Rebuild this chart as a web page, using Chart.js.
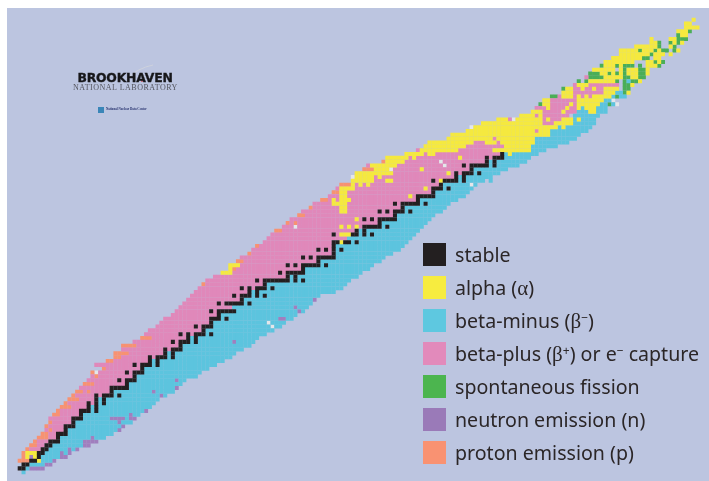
<!DOCTYPE html>
<html><head><meta charset="utf-8">
<script src="https://cdn.jsdelivr.net/npm/chart.js@4"></script>
<style>
html,body{margin:0;padding:0;background:#fff;width:709px;height:481px;overflow:hidden}
#bg{position:absolute;left:7px;top:8px;width:702px;height:473px;background:#bcc5e0}
canvas{position:absolute;left:0;top:0}
.sw{position:absolute;left:423px;width:23px;height:23px}
.lb{position:absolute;left:455px;height:23px;font:19.6px/24px "Noto Sans",sans-serif;color:#2b2627;white-space:nowrap}
.lb i{font:normal 21px "Liberation Serif",serif}
.lb sup{font-size:12px;line-height:0;vertical-align:6px}
#bnl{position:absolute;left:77px;top:71px;width:96px;text-align:center;font:bold 12.4px/14px "DejaVu Sans",sans-serif;color:#17171a;white-space:nowrap;letter-spacing:-.2px;-webkit-text-stroke:.35px #17171a}
#nat{position:absolute;left:73px;top:83px;font:8px/10px "Liberation Serif",serif;color:#55565f;letter-spacing:.5px;white-space:nowrap}
#icon{position:absolute;left:98px;top:107px;width:6px;height:6px;background:#3a86b8}
#nndc{position:absolute;left:106px;top:106px;font:bold 3.2px/6px "Liberation Serif",serif;color:#28336f;white-space:nowrap}
#arc{position:absolute;left:0;top:0}
</style></head><body>
<div id="bg"></div>
<canvas id="c" width="709" height="481"></canvas>
<svg id="arc" width="709" height="481"><path d="M126 79 Q138 68 153 65" fill="none" stroke="#cdd1dc" stroke-width="1"/><circle cx="142" cy="81" r="0.9" fill="#c8434f"/></svg>
<div id="bnl">BROOKHAVEN</div><div id="nat">NATIONAL LABORATORY</div><div id="icon"></div><div id="nndc">National Nuclear Data Center</div>
<div class="sw" style="top:243px;background:#231f20"></div><div class="lb" style="top:243px">stable</div>
<div class="sw" style="top:276px;background:#f7ec3f"></div><div class="lb" style="top:276px">alpha (<i>α</i>)</div>
<div class="sw" style="top:309px;background:#5ec8e0"></div><div class="lb" style="top:309px">beta-minus (<i>β</i><sup>−</sup>)</div>
<div class="sw" style="top:342px;background:#e28abb"></div><div class="lb" style="top:342px">beta-plus (<i>β</i><sup>+</sup>) or e<sup>−</sup> capture</div>
<div class="sw" style="top:375px;background:#4cb54f"></div><div class="lb" style="top:375px">spontaneous fission</div>
<div class="sw" style="top:408px;background:#9a7ab8"></div><div class="lb" style="top:408px">neutron emission (n)</div>
<div class="sw" style="top:441px;background:#f99272"></div><div class="lb" style="top:441px">proton emission (p)</div>
<script>
// Index = proton number Z (0..92)
const nLow=[1,0,1,0,1,1,2,3,4,5,6,7,7,8,8,9,10,11,12,13,14,15,16,17,18,19,19,22,20,23,25,25,27,27,30,32,33,34,36,37,38,40,41,42,43,44,45,46,47,48,49,51,53,55,55,57,58,60,61,62,64,65,66,67,69,70,71,73,74,76,77,79,81,82,83,84,87,87,88,90,91,95,96,101,104,106,107,112,113,117,119,121,125];
const nHigh=[1,6,8,9,12,13,15,18,20,22,24,26,27,29,30,31,33,34,35,36,38,40,41,42,43,46,47,49,51,53,55,56,58,60,61,62,64,66,68,69,71,72,74,75,76,77,78,82,84,85,86,88,89,91,92,94,95,97,99,100,101,102,103,104,105,106,107,108,110,111,112,114,116,117,118,119,121,123,125,127,130,132,133,135,137,140,143,145,146,148,149,150,150];
const firstBlue=[0,2,3,5,6,7,8,9,11,11,13,13,15,15,17,17,19,19,21,21,25,25,29,29,31,31,33,33,35,35,39,39,43,43,45,45,49,49,51,51,53,53,57,56,59,59,61,61,65,65,71,71,75,75,79,79,83,83,83,83,87,86,89,89,95,95,99,99,101,101,105,105,109,109,111,111,115,115,119,119,123,123,127,127,134,134,135,135,139,139,141,145,145];
// [Z, neutron numbers...]
const stableNuclides=[[1,0,1],[2,1,2],[3,3,4],[4,5],[5,5,6],[6,6,7],[7,7,8],[8,8,9,10],[9,10],[10,10,11,12],[11,12],[12,12,13,14],[13,14],[14,14,15,16],[15,16],[16,16,17,18,20],[17,18,20],[18,18,20,22],[19,20,22],[20,20,22,23,24,26],[21,24],[22,24,25,26,27,28],[23,28],[24,26,28,29,30],[25,30],[26,28,30,31,32],[27,32],[28,30,32,33,34,36],[29,34,36],[30,34,36,37,38,40],[31,38,40],[32,38,40,41,42],[33,42],[34,40,42,43,44,46],[35,44,46],[36,42,44,46,47,48,50],[37,48],[38,46,48,49,50],[39,50],[40,50,51,52,54],[41,52],[42,50,52,53,54,55,56],[44,52,54,55,56,57,58,60],[45,58],[46,56,58,59,60,62,64],[47,60,62],[48,58,60,62,63,64,66],[49,64],[50,62,64,65,66,67,68,69,70,72,74],[51,70,72],[52,68,70,71,72,73,74],[53,74],[54,70,72,74,75,76,77,78,80],[55,78],[56,74,76,78,79,80,81,82],[57,82],[58,78,80,82,84],[59,82],[60,82,83,85,86,88],[62,82,87,88,90,92],[63,88,90],[64,90,91,92,93,94,96],[65,94],[66,90,92,94,95,96,97,98],[67,98],[68,94,96,98,99,100,102],[69,100],[70,98,100,101,102,103,104,106],[71,104],[72,104,105,106,107,108],[73,108],[74,108,109,110,112],[75,110],[76,108,111,112,113,114,116],[77,114,116],[78,114,116,117,118,120],[79,118],[80,116,118,119,120,121,122,124],[81,122,124],[82,122,124,125,126],[83,126]];
// Runs: [Z, first N, last N]
const betaPlusRuns=[[92,128,128],[93,135,135],[93,137,143],[94,137,141],[94,143,145],[95,135,137],[95,139,142],[95,144,145],[96,139,143],[96,145,145],[97,139,145],[98,141,141],[98,145,145],[98,147,147],[98,149,149],[99,145,152],[100,145,146],[100,148,149],[100,151,152],[101,145,145],[101,149,156],[103,148,148]];
const betaMinusRuns=[[76,123,123],[93,145,151],[94,146,148],[94,151,153],[95,147,147],[95,151,153],[96,152,153],[96,155,155],[97,153,155],[98,155,155],[98,157,158],[99,156,157],[102,159,159]];
const alphaRuns=[[4,2,2],[4,4,4],[5,2,4],[3,5,5],[52,53,55],[53,55,55],[54,55,57],[60,84,84],[62,84,86],[64,84,84],[64,86,86],[64,88,88],[66,88,88],[68,84,85],[69,84,85],[70,82,85],[71,82,82],[71,84,86],[72,84,85],[72,102,102],[73,84,85],[74,84,87],[74,106,106],[74,108,110],[74,112,112],[75,87,87],[75,89,89],[75,91,91],[76,87,92],[76,96,97],[76,108,108],[76,110,110],[77,88,92],[77,94,94],[78,88,97],[78,112,112],[79,93,96],[79,105,105],[80,92,98],[81,96,100],[82,96,101],[82,103,103],[82,115,115],[83,101,105],[83,107,108],[83,128,128],[84,105,114],[84,124,133],[85,106,116],[85,127,133],[86,107,118],[86,122,124],[86,126,134],[87,112,123],[87,125,134],[88,113,138],[89,117,134],[89,136,138],[90,119,140],[90,142,142],[91,121,136],[91,140,144],[92,125,127],[92,130,136],[92,138,138],[92,142,144],[92,146,146],[93,131,134],[93,136,136],[94,134,136],[94,142,142],[94,149,150],[95,138,138],[95,143,143],[95,146,146],[95,148,150],[96,137,138],[96,144,144],[96,146,151],[97,137,138],[97,146,152],[98,142,144],[98,146,146],[98,148,148],[98,150,154],[99,142,144],[99,153,155],[99,159,159],[100,143,144],[100,147,147],[100,150,150],[100,153,156],[101,146,148],[101,160,160],[102,149,155],[102,162,162],[103,153,157],[103,160,161],[104,152,153],[104,155,155],[104,157,157],[104,159,161],[104,164,164],[105,150,155],[105,157,157],[105,159,161],[105,164,164],[106,153,155],[106,157,157],[106,164,166],[107,153,160],[107,164,165],[107,167,167],[108,155,162],[108,166,167],[109,157,164],[109,166,168],[109,170,170],[110,157,161],[110,163,165],[110,167,167],[110,172,172],[111,161,166],[111,170,170],[112,165,166],[112,171,171],[112,173,173],[113,165,165],[113,170,171],[114,173,174],[115,172,174],[116,174,177],[117,174,175],[118,176,176]];
const fissionRuns=[[96,136,136],[96,154,154],[98,139,140],[98,156,156],[99,158,158],[100,142,142],[100,158,159],[101,158,159],[102,146,146],[102,148,148],[102,156,156],[102,158,158],[102,160,161],[103,149,152],[103,158,159],[103,162,163],[104,149,151],[104,154,154],[104,156,156],[104,158,158],[104,162,163],[105,158,158],[105,162,163],[106,152,152],[106,156,156],[106,158,160],[106,162,162],[106,167,167],[107,166,166],[107,168,168],[108,163,164],[109,165,165],[110,162,162],[110,166,166],[110,168,169],[110,171,171],[111,167,167],[111,171,171],[112,167,167],[112,170,170],[112,172,172],[113,172,174],[114,172,172],[115,175,175]];
const neutronRuns=[[1,3,6],[2,7,8],[3,9,9],[4,3,3],[4,11,12],[5,11,11],[5,13,13],[6,13,13],[6,15,15],[7,17,18],[8,17,20],[9,19,19],[11,26,26],[12,27,27],[13,26,26],[14,24,27],[14,29,30],[15,29,29],[16,33,33],[20,37,37],[21,35,35],[22,41,41],[24,41,41],[34,56,56],[40,68,69],[42,73,73],[43,72,72],[45,77,77]];
const protonRuns=[[3,0,2],[4,1,1],[5,1,1],[6,2,2],[7,3,4],[8,4,4],[9,5,7],[10,6,7],[11,8,8],[12,7,7],[13,8,8],[15,9,10],[16,10,10],[17,11,13],[18,12,12],[19,13,15],[20,14,14],[21,15,16],[21,18,18],[23,17,19],[25,20,20],[26,19,19],[27,22,22],[29,23,24],[30,25,26],[31,25,28],[33,27,30],[35,32,34],[49,48,48],[53,56,56],[55,57,58],[57,60,60],[59,62,62],[63,67,68],[65,70,70],[65,72,72],[67,73,74],[69,76,76],[71,79,80],[73,82,83],[75,84,86],[79,90,92],[81,95,95]];
const unknownRuns=[[26,20,20],[38,66,66],[39,65,65],[64,72,72],[77,87,87],[79,97,97],[80,111,111],[81,110,110],[75,118,118],[90,118,118],[92,129,129],[96,156,156],[97,155,155]];

const types=['stable','alpha','betaMinus','betaPlus','fission','neutron','proton','unknown'];
const names={stable:'stable',alpha:'alpha (α)',betaMinus:'beta-minus (β−)',betaPlus:'beta-plus (β+) or e− capture',fission:'spontaneous fission',neutron:'neutron emission (n)',proton:'proton emission (p)',unknown:'unknown'};
const colors={stable:'#231f20',alpha:'#f5e93f',betaMinus:'#5cc4de',betaPlus:'#e088ba',fission:'#4aae57',neutron:'#a07fbe',proton:'#f79272',unknown:'#e4e6ea'};

const grid=new Map();
const put=(z,n,t)=>grid.set(z+':'+n,{x:n,y:z,t});
nLow.forEach((lo,z)=>{for(let n=lo;n<=nHigh[z];n++)put(z,n,n<firstBlue[z]?'betaPlus':'betaMinus');});
const apply=(runs,t)=>runs.forEach(([z,a,b])=>{for(let n=a;n<=b;n++)put(z,n,t);});
apply(betaPlusRuns,'betaPlus');apply(betaMinusRuns,'betaMinus');apply(alphaRuns,'alpha');apply(fissionRuns,'fission');apply(neutronRuns,'neutron');apply(protonRuns,'proton');apply(unknownRuns,'unknown');
stableNuclides.forEach(([z,...ns])=>ns.forEach(n=>put(z,n,'stable')));
const cells=[...grid.values()];

new Chart(document.getElementById('c'),{
 type:'scatter',
 data:{datasets:types.map(t=>({label:names[t],data:cells.filter(c=>c.t===t),backgroundColor:colors[t],borderWidth:0,pointStyle:'rect',pointRadius:2.85,pointHoverRadius:2.85}))},
 options:{responsive:false,animation:false,devicePixelRatio:1,layout:{padding:0},
  plugins:{legend:{display:false},tooltip:{enabled:false}},
  scales:{x:{type:'linear',display:false,min:-4.404,max:179.27},y:{type:'linear',display:false,min:-1.546,max:122.42}}}
});
</script>
</body></html>
